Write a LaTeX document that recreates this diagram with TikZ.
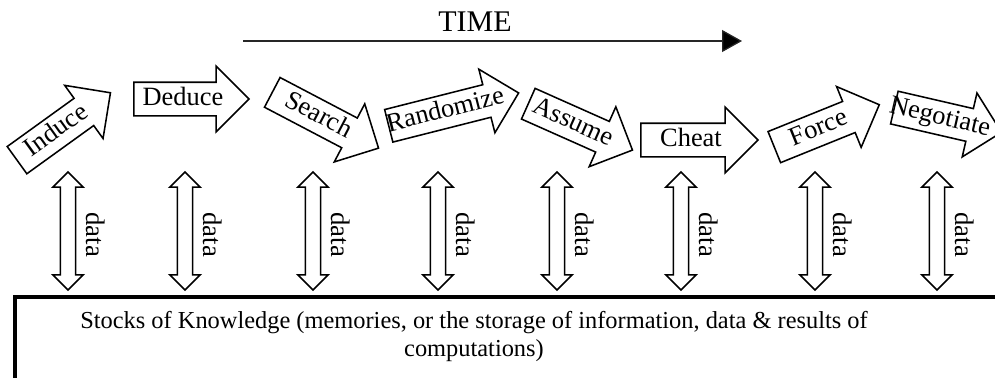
\documentclass[tikz,border=0pt]{standalone}
\usepackage{fontspec}
\setmainfont{Liberation Serif}
\usepackage{tikz}
\usetikzlibrary{shapes.arrows,arrows.meta}

\tikzset{
  blockarrow/.style={draw, single arrow, single arrow head extend=0.4cm, line width=1.1pt,
    inner xsep=0.05cm, inner ysep=0.085cm, text height=0.47cm, text depth=0.16cm,
    anchor=tail, font=\fontsize{0.66cm}{0.79cm}\selectfont},
  flowarrow/.style={draw, double arrow, rotate=90, double arrow head extend=0.19cm,
    minimum height=2.95cm, inner xsep=0pt, inner ysep=0.17cm, line width=1.1pt},
  datalabel/.style={rotate=-90, inner sep=0pt, font=\fontsize{0.67cm}{0.8cm}\selectfont},
}

\begin{document}
\begin{tikzpicture}
\useasboundingbox (0,0) rectangle (24.875,9.425);
\clip (0,0) rectangle (24.875,9.425);

% time axis
\coordinate (tstart) at (6.075,8.4);
\coordinate (tend) at (18.55,8.4);
\draw[line width=0.9pt, black!85, -{Triangle[length=0.5cm,width=0.55cm,fill=black]}] (tstart) -- (tend);
\node[font=\fontsize{0.75cm}{0.9cm}\selectfont, inner sep=0pt] (time) at (11.875,8.89) {TIME};

% the eight steps
\node[blockarrow, rotate=35.8, minimum height=2.88cm] (induce) at (0.41,5.41) {Induce};
\node[blockarrow, minimum height=2.88cm] (deduce) at (3.325,6.95) {Deduce};
\node[blockarrow, rotate=-27.7, minimum height=3.0cm] (search) at (6.79,7.125) {Search};
\node[blockarrow, rotate=14.2, minimum height=3.35cm, inner xsep=-0.2cm] (randomize) at (9.7,6.275) {Randomize};
\node[blockarrow, rotate=-24, minimum height=2.85cm] (assume) at (13.19,6.84) {Assume};
\node[blockarrow, minimum height=2.93cm] (cheat) at (16.0,5.925) {Cheat};
\node[blockarrow, rotate=22, minimum height=2.83cm] (force) at (19.34,5.74) {Force};
\node[blockarrow, rotate=-13, minimum height=2.75cm, inner xsep=-0.3cm] (negotiate) at (22.34,6.74) {Negotiate};

% data exchange with the stocks
\foreach \x [count=\i] in {1.7,4.625,7.825,10.95,13.925,17.025,20.375,23.425} {
  \node[flowarrow] (flow\i) at (\x,3.65) {};
  \node[datalabel] (data\i) at ([shift={(0.68,-0.09)}]flow\i.center) {data};
}

% stocks of knowledge
\draw[line width=0.1cm] (0.375,-1) rectangle (26,2.0);
\node[font=\fontsize{0.61cm}{0.68cm}\selectfont, align=center] (stocks) at (11.85,1.01)
  {Stocks of Knowledge (memories, or the storage of information, data \& results of\\computations)};
\end{tikzpicture}
\end{document}
